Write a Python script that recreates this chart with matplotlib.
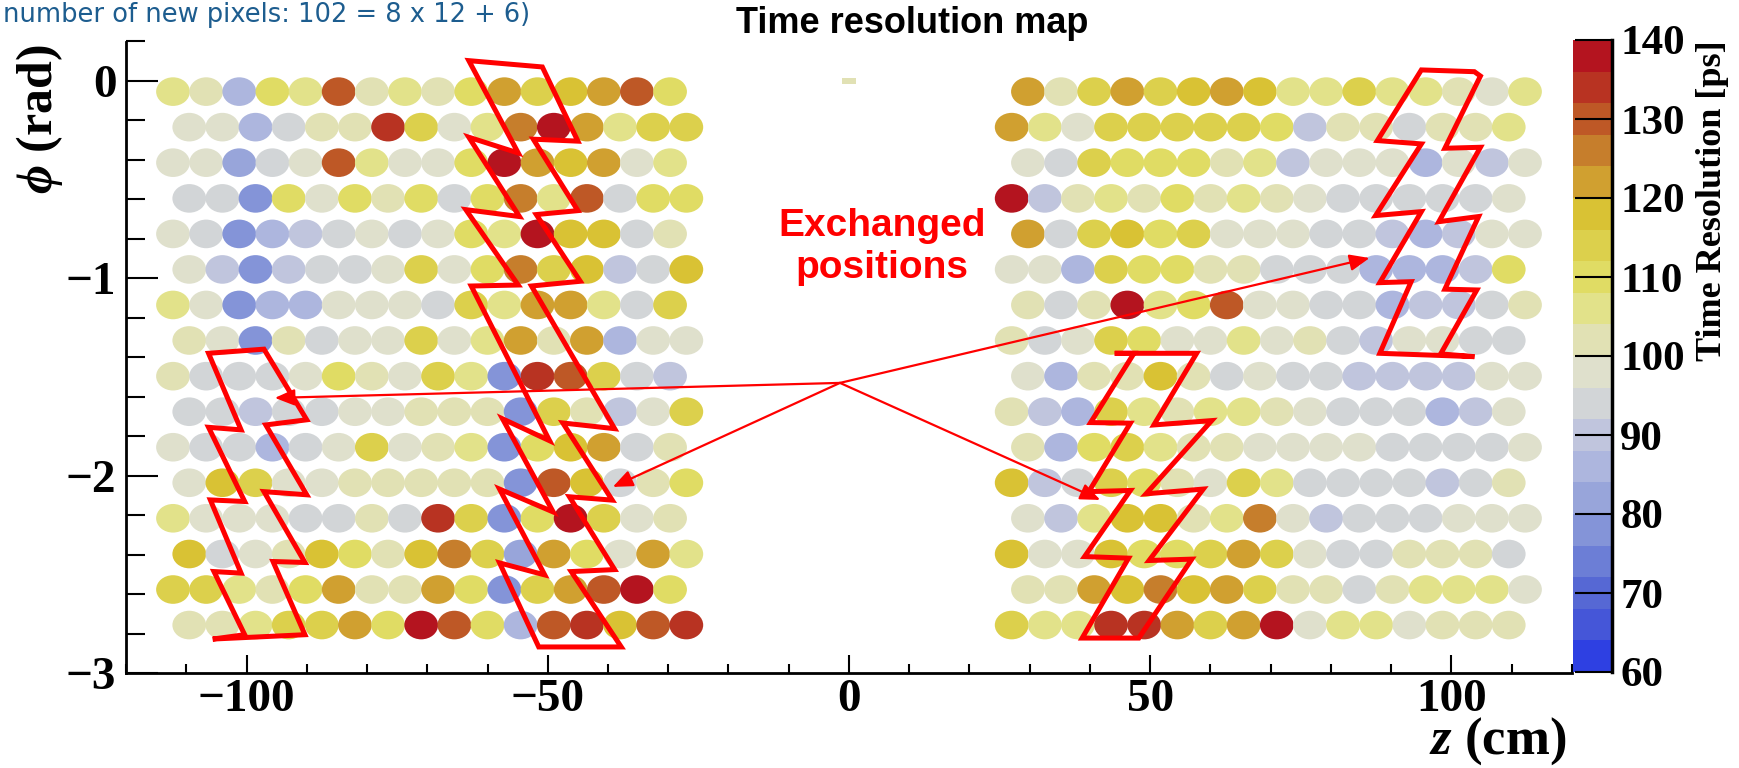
import numpy as np
import matplotlib
matplotlib.use("Agg")
import matplotlib.pyplot as plt
from matplotlib.patches import Ellipse, Polygon, Rectangle
from matplotlib.collections import PatchCollection
from matplotlib.colors import ListedColormap, BoundaryNorm
from matplotlib.cm import ScalarMappable
from matplotlib.ticker import MultipleLocator, FixedLocator

plt.rcParams['font.family'] = ['Liberation Serif', 'DejaVu Serif']
plt.rcParams['font.weight'] = 'bold'
plt.rcParams['mathtext.fontset'] = 'custom'
plt.rcParams['mathtext.it'] = 'Liberation Serif:italic:bold'
plt.rcParams['mathtext.rm'] = 'Liberation Serif:bold'
plt.rcParams['mathtext.bf'] = 'Liberation Serif:bold'

# ---------------- data ----------------
# phi of each pixel row (rad)
phi_rows = [-0.054, -0.234, -0.414, -0.595, -0.775, -0.955, -1.135, -1.315,
            -1.496, -1.676, -1.856, -2.036, -2.216, -2.397, -2.577, -2.757]
# |z| of pixel columns (cm) for the two staggered row types
z_cols_A = [29.7, 35.2, 40.7, 46.2, 51.7, 57.2, 62.7, 68.2,
            73.7, 79.2, 84.7, 90.2, 95.7, 101.2, 106.7, 112.2]
z_cols_B = [27.0, 32.5, 38.0, 43.5, 49.0, 54.5, 60.0, 65.5,
            71.0, 76.5, 82.0, 87.5, 93.0, 98.5, 104.0, 109.5]

# time resolution [ps], upstream half (z<0), each row ordered from most negative z
left_values = [
    [106, 102, 86, 110, 106, 130, 102, 106, 102, 110, 122, 114, 118, 122, 130, 110],
    [98, 98, 86, 94, 102, 102, 134, 114, 98, 106, 126, 138, 122, 106, 114, 114],
    [98, 98, 82, 94, 98, 130, 106, 98, 98, 110, 138, 122, 118, 122, 98, 106],
    [94, 94, 78, 110, 98, 110, 102, 110, 94, 110, 126, 106, 130, 94, 110, 110],
    [98, 94, 78, 86, 90, 94, 98, 94, 98, 110, 106, 138, 118, 118, 94, 102],
    [98, 90, 78, 90, 94, 94, 98, 114, 98, 110, 126, 114, 118, 90, 94, 118],
    [106, 98, 78, 86, 86, 98, 98, 98, 94, 114, 106, 122, 122, 106, 94, 114],
    [102, 98, 78, 102, 94, 98, 98, 114, 98, 106, 122, 102, 122, 86, 98, 98],
    [102, 94, 94, 94, 98, 110, 102, 98, 114, 106, 78, 134, 130, 114, 94, 90],
    [94, 94, 90, 94, 94, 98, 98, 102, 102, 102, 78, 114, 102, 90, 98, 114],
    [98, 94, 94, 86, 94, 98, 114, 98, 102, 106, 78, 110, 118, 122, 94, 102],
    [98, 118, 114, 98, 98, 102, 102, 102, 102, 102, 78, 130, 118, 94, 102, 110],
    [106, 98, 98, 98, 94, 94, 102, 94, 134, 114, 78, 110, 138, 114, 98, 102],
    [118, 94, 98, 102, 118, 110, 102, 118, 126, 114, 82, 122, 110, 98, 122, 106],
    [114, 114, 106, 102, 110, 122, 102, 102, 122, 110, 78, 114, 122, 130, 138, 110],
    [102, 102, 106, 114, 114, 122, 110, 138, 130, 110, 86, 130, 134, 118, 130, 134],
]
# downstream half (z>0), each row ordered from smallest z
right_values = [
    [122, 102, 114, 122, 114, 118, 122, 118, 106, 106, 114, 106, 106, 102, 98, 106],
    [122, 106, 98, 114, 114, 114, 114, 114, 110, 90, 102, 102, 94, 102, 102, 106],
    [98, 94, 114, 110, 110, 110, 102, 106, 90, 98, 98, 98, 86, 98, 90, 98],
    [138, 90, 102, 106, 102, 110, 102, 106, 102, 98, 94, 94, 94, 94, 94, 98],
    [122, 94, 114, 118, 110, 114, 98, 98, 98, 94, 94, 90, 86, 90, 98, 98],
    [98, 98, 86, 114, 110, 110, 102, 102, 94, 94, 94, 86, 86, 86, 90, 110],
    [102, 94, 102, 138, 106, 110, 130, 98, 98, 94, 94, 86, 90, 90, 94, 102],
    [102, 94, 98, 114, 110, 98, 98, 106, 98, 102, 94, 90, 98, 98, 94, 94],
    [98, 86, 102, 102, 118, 102, 94, 98, 94, 94, 90, 90, 90, 90, 98, 98],
    [102, 90, 86, 114, 106, 102, 106, 106, 102, 98, 94, 94, 94, 86, 90, 98],
    [102, 86, 110, 114, 106, 102, 102, 98, 98, 98, 98, 94, 94, 94, 94, 98],
    [118, 90, 94, 114, 110, 102, 98, 114, 106, 94, 94, 94, 94, 90, 94, 102],
    [98, 90, 106, 118, 118, 102, 106, 126, 98, 90, 94, 94, 94, 98, 98, 98],
    [118, 98, 98, 118, 110, 110, 114, 122, 114, 98, 94, 94, 102, 102, 102, 94],
    [102, 102, 122, 118, 126, 118, 122, 114, 102, 102, 94, 102, 106, 106, 106, 98],
    [114, 106, 106, 134, 134, 122, 114, 122, 138, 98, 106, 106, 98, 102, 102, 102],
]
center_bin_value = 100

palette_levels = [60, 64, 68, 72, 76, 80, 84, 88, 92, 96, 100,
                  104, 108, 112, 116, 120, 124, 128, 132, 136, 140]
palette_colors = ['#2E40E2', '#4556D8', '#5668D4', '#6C7ED6', '#8494D8',
                  '#98A5DA', '#ADB6DE', '#C0C5DD', '#D2D5D7', '#DFE0CC',
                  '#E1E1B4', '#E2E28A', '#E0DC64', '#DCD04C', '#D9C234',
                  '#D0A030', '#C67E2C', '#BE5826', '#B83322', '#B4141F']
colorbar_ticks = [60, 70, 80, 90, 100, 110, 120, 130, 140]

# annotation outlines (z, phi)
shape_mid_left = [(-63.1, 0.103), (-50.9, 0.071), (-45.0, -0.305), (-52.4, -0.295),
                  (-45.0, -0.657), (-51.9, -0.677), (-44.6, -1.015), (-52.7, -1.039),
                  (-38.9, -1.762), (-47.5, -1.733), (-39.3, -2.124), (-46.4, -2.107),
                  (-38.9, -2.476), (-46.1, -2.486), (-37.8, -2.868), (-51.5, -2.868),
                  (-58.0, -2.442), (-50.5, -2.503), (-58.0, -2.068), (-49.1, -2.184),
                  (-57.5, -1.712), (-49.7, -1.823), (-62.7, -1.039), (-54.9, -1.034),
                  (-63.6, -0.652), (-54.7, -0.687), (-63.1, -0.285), (-54.9, -0.365)]
shape_far_left = [(-105.6, -2.828), (-90.3, -2.806), (-95.6, -2.435), (-90.3, -2.440),
                  (-97.1, -2.081), (-90.0, -2.097), (-96.8, -1.743), (-90.0, -1.717),
                  (-97.1, -1.359), (-106.3, -1.380), (-100.9, -1.768), (-106.3, -1.755),
                  (-100.3, -2.131), (-106.0, -2.123), (-100.9, -2.494), (-105.4, -2.486),
                  (-100.3, -2.806)]
shape_right_upper = [(95.0, 0.056), (103.8, 0.047), (104.8, 0.025), (98.9, -0.341),
                     (104.8, -0.336), (97.9, -0.713), (104.5, -0.687), (98.9, -1.055),
                     (104.2, -1.059), (98.2, -1.383), (103.8, -1.397), (88.1, -1.380),
                     (93.3, -1.017), (88.1, -1.022), (95.0, -0.662), (87.4, -0.682),
                     (95.0, -0.319), (87.7, -0.302)]
shape_right_lower = [(44.1, -1.380), (57.7, -1.380), (50.6, -1.743), (60.2, -1.721),
                     (49.3, -2.092), (58.8, -2.068), (49.8, -2.430), (56.9, -2.423),
                     (48.1, -2.823), (38.7, -2.823), (46.4, -2.418), (39.1, -2.410),
                     (46.7, -2.075), (39.8, -2.081), (46.7, -1.734), (40.1, -1.731),
                     (47.3, -1.380)]
arrow_origin = (-1.5, -1.53)
arrow_tips = [(-95.3, -1.606), (-39.2, -2.057), (86.4, -0.897), (41.7, -2.123)]

# ---------------- figure ----------------
W, H = 1740, 768
fig = plt.figure(figsize=(W / 100, H / 100), dpi=100)
fig.patch.set_facecolor('white')
ax = fig.add_axes([126 / W, 95 / H, (1572 - 126) / W, (726.5 - 95) / H])

cmap = ListedColormap(palette_colors)
norm = BoundaryNorm(palette_levels, cmap.N)

pix_w, pix_h = 5.6, 0.145
patches, vals = [], []
for r, phi in enumerate(phi_rows):
    zr = z_cols_A if r % 2 == 0 else z_cols_B
    zl = [-z for z in reversed(zr)]
    for z, v in zip(zl, left_values[r]):
        patches.append(Ellipse((z, phi), pix_w, pix_h))
        vals.append(v)
    for z, v in zip(zr, right_values[r]):
        patches.append(Ellipse((z, phi), pix_w, pix_h))
        vals.append(v)
pc = PatchCollection(patches, cmap=cmap, norm=norm, edgecolor='none', linewidth=0)
pc.set_array(np.array(vals, dtype=float))
ax.add_collection(pc)
ax.add_patch(Rectangle((-1.1, -0.017), 2.2, 0.034, facecolor=cmap(norm(center_bin_value)),
                       edgecolor='none'))

for shp in [shape_mid_left, shape_far_left, shape_right_upper, shape_right_lower]:
    ax.add_patch(Polygon(shp, closed=True, fill=False, edgecolor='#FF0000', lw=3.6,
                         joinstyle='miter', zorder=5))
for tip in arrow_tips:
    ax.annotate('', xy=tip, xytext=arrow_origin, zorder=6,
                arrowprops=dict(arrowstyle='-|>,head_length=0.6,head_width=0.25',
                                color='#FF0000', lw=1.6, shrinkA=0, shrinkB=0,
                                mutation_scale=20))
ax.text(5.5, -0.84, 'Exchanged\npositions', color='#FF0000', fontsize=28,
        fontweight='bold', family='Liberation Sans', ha='center', va='center',
        linespacing=1.2, zorder=7)

ax.set_xlim(-120, 120)
ax.set_ylim(-3, 0.2)
for s in ['top', 'right']:
    ax.spines[s].set_visible(False)
for s in ['left', 'bottom']:
    ax.spines[s].set_linewidth(2)
ax.xaxis.set_major_locator(FixedLocator([-100, -50, 0, 50, 100]))
ax.xaxis.set_minor_locator(MultipleLocator(10))
ax.yaxis.set_major_locator(FixedLocator([-3, -2, -1, 0]))
ax.yaxis.set_minor_locator(MultipleLocator(0.2))
ax.tick_params(axis='x', which='major', direction='in', length=13, width=1.5,
               labelsize=34, pad=4, top=False)
ax.tick_params(axis='x', which='minor', direction='in', length=6.5, width=1.5, top=False)
ax.tick_params(axis='y', which='major', direction='in', length=23, width=1.5,
               labelsize=34, pad=7, right=False)
ax.tick_params(axis='y', which='minor', direction='in', length=14, width=1.5, right=False)

# colour bar
cax = fig.add_axes([1573 / W, 96 / H, 39 / W, 632 / H])
sm = ScalarMappable(norm=norm, cmap=cmap)
cb = fig.colorbar(sm, cax=cax, ticks=colorbar_ticks)
cb.outline.set_visible(False)
cax.yaxis.set_ticks_position('right')
cax.minorticks_off()
cax.tick_params(axis='y', direction='in', length=27, width=1.5, labelsize=31, pad=6)
cax.plot([1, 1], [0, 1], transform=cax.transAxes, color='black', lw=2.5, clip_on=False)

# texts
fig.text(40 / W, 1 - 45 / H, r'$\phi$ (rad)', rotation=90, ha='center', va='top',
         fontsize=36, fontweight='bold')
fig.text(1566 / W, 14 / H, r'$z$ (cm)', ha='right', va='baseline', fontsize=38,
         fontweight='bold')
fig.text(1713 / W, 1 - 40 / H, 'Time Resolution [ps]', rotation=90, ha='center',
         va='top', fontsize=26, fontweight='bold')
fig.text(912 / W, 1 - 33 / H, 'Time resolution map', ha='center', va='baseline',
         fontsize=26, fontweight='bold', family='Liberation Sans')
fig.text(3 / W, 1 - 22 / H, 'number of new pixels: 102 = 8 x 12 + 6)', ha='left',
         va='baseline', fontsize=18.5, fontweight='normal', family='DejaVu Sans',
         color='#1d5d8f')

fig.savefig('out.png', dpi=100)
